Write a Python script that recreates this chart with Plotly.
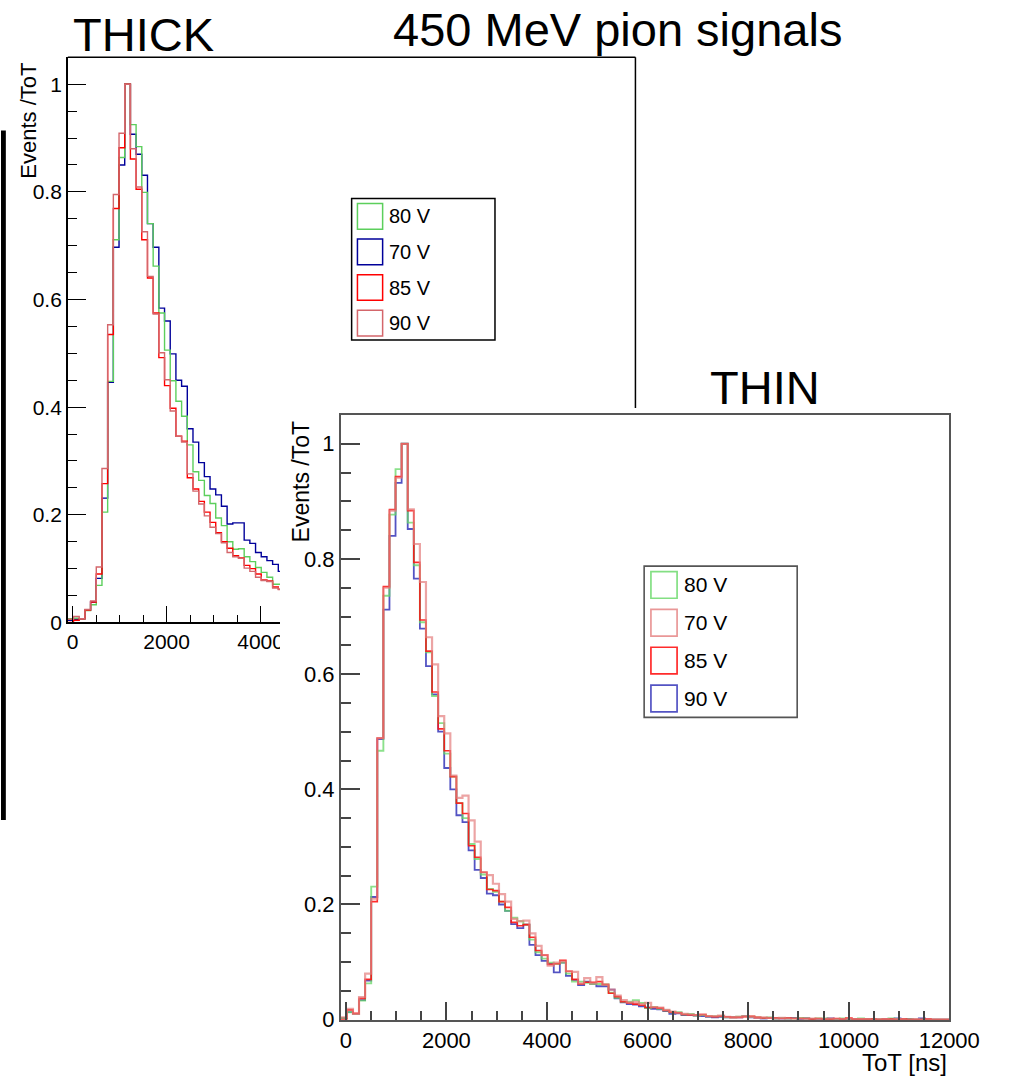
import numpy as np
import plotly.graph_objects as go

W, H = 1019, 1088
FONT = "Liberation Sans, Arial, Helvetica, sans-serif"

# ---- histogram binning: 100 bins of 121 ns starting at -100 ns ----
BIN0, BINW = -100.0, 121.0

# ---- THICK sensor, normalised ToT spectra (first 38 bins) ----
thick_80V = [0.007, 0.008, 0.007, 0.022, 0.033, 0.069, 0.205, 0.448, 0.711, 0.864,
             1.000, 0.925, 0.884, 0.799, 0.741, 0.662, 0.575, 0.506, 0.449, 0.411,
             0.383, 0.330, 0.280, 0.264, 0.236, 0.221, 0.194, 0.180, 0.150, 0.136,
             0.137, 0.122, 0.113, 0.102, 0.093, 0.084, 0.071, 0.071]
thick_70V = [0.004, 0.006, 0.007, 0.023, 0.038, 0.082, 0.231, 0.446, 0.697, 0.850,
             1.000, 0.907, 0.870, 0.831, 0.741, 0.697, 0.584, 0.560, 0.499, 0.450,
             0.439, 0.360, 0.335, 0.297, 0.271, 0.248, 0.237, 0.216, 0.183, 0.185,
             0.185, 0.153, 0.147, 0.130, 0.122, 0.115, 0.108, 0.095]
thick_85V = [0.000, 0.004, 0.007, 0.023, 0.038, 0.090, 0.258, 0.535, 0.769, 0.882,
             1.000, 0.861, 0.805, 0.711, 0.640, 0.575, 0.492, 0.440, 0.398, 0.346,
             0.337, 0.269, 0.248, 0.225, 0.205, 0.186, 0.167, 0.150, 0.138, 0.124,
             0.120, 0.106, 0.100, 0.090, 0.079, 0.077, 0.066, 0.062]
thick_90V = [0.006, 0.011, 0.007, 0.024, 0.040, 0.103, 0.286, 0.553, 0.795, 0.909,
             1.000, 0.880, 0.809, 0.726, 0.643, 0.573, 0.501, 0.451, 0.393, 0.346,
             0.335, 0.276, 0.244, 0.220, 0.198, 0.177, 0.165, 0.148, 0.130, 0.122,
             0.119, 0.101, 0.095, 0.084, 0.078, 0.076, 0.064, 0.061]

# ---- THIN sensor, normalised ToT spectra (100 bins) ----
thin_80V = [0.003, 0.013, 0.010, 0.033, 0.063, 0.231, 0.467, 0.736, 0.877, 0.956,
            1.000, 0.863, 0.789, 0.690, 0.638, 0.562, 0.515, 0.462, 0.422, 0.376,
            0.350, 0.305, 0.279, 0.252, 0.227, 0.222, 0.205, 0.189, 0.177, 0.171,
            0.165, 0.139, 0.117, 0.106, 0.099, 0.097, 0.099, 0.080, 0.066, 0.066,
            0.064, 0.062, 0.062, 0.061, 0.047, 0.038, 0.031, 0.031, 0.034, 0.029,
            0.020, 0.022, 0.019, 0.016, 0.013, 0.013, 0.009, 0.010, 0.007, 0.008,
            0.006, 0.006, 0.006, 0.004, 0.004, 0.005, 0.006, 0.005, 0.004, 0.003,
            0.004, 0.002, 0.003, 0.002, 0.002, 0.003, 0.002, 0.001, 0.002, 0.002,
            0.001, 0.001, 0.002, 0.001, 0.001, 0.002, 0.001, 0.001, 0.001, 0.000,
            0.002, 0.001, 0.000, 0.001, 0.000, 0.000, 0.000, 0.000, 0.000, 0.000]
thin_70V = [0.004, 0.019, 0.010, 0.039, 0.080, 0.210, 0.489, 0.750, 0.884, 0.941,
            1.000, 0.886, 0.826, 0.760, 0.664, 0.617, 0.527, 0.497, 0.424, 0.385,
            0.389, 0.346, 0.309, 0.256, 0.251, 0.236, 0.218, 0.205, 0.175, 0.171,
            0.172, 0.150, 0.128, 0.112, 0.094, 0.099, 0.101, 0.084, 0.083, 0.063,
            0.072, 0.063, 0.074, 0.061, 0.052, 0.042, 0.034, 0.030, 0.031, 0.027,
            0.029, 0.022, 0.021, 0.017, 0.014, 0.012, 0.010, 0.009, 0.008, 0.009,
            0.006, 0.006, 0.007, 0.005, 0.004, 0.005, 0.006, 0.005, 0.003, 0.004,
            0.003, 0.002, 0.003, 0.002, 0.002, 0.002, 0.001, 0.002, 0.001, 0.001,
            0.002, 0.001, 0.001, 0.002, 0.001, 0.001, 0.001, 0.000, 0.001, 0.001,
            0.000, 0.001, 0.000, 0.000, 0.001, 0.000, 0.000, 0.000, 0.000, 0.000]
thin_85V = [0.000, 0.017, 0.011, 0.037, 0.070, 0.205, 0.489, 0.752, 0.886, 0.943,
            1.000, 0.884, 0.794, 0.694, 0.640, 0.569, 0.505, 0.467, 0.422, 0.376,
            0.358, 0.302, 0.282, 0.256, 0.226, 0.224, 0.205, 0.195, 0.169, 0.163,
            0.165, 0.143, 0.120, 0.112, 0.096, 0.097, 0.103, 0.084, 0.070, 0.062,
            0.065, 0.065, 0.066, 0.061, 0.046, 0.040, 0.031, 0.029, 0.027, 0.025,
            0.021, 0.021, 0.020, 0.016, 0.013, 0.012, 0.009, 0.008, 0.008, 0.009,
            0.006, 0.005, 0.006, 0.005, 0.004, 0.004, 0.005, 0.006, 0.004, 0.003,
            0.003, 0.003, 0.002, 0.003, 0.002, 0.002, 0.002, 0.001, 0.002, 0.001,
            0.001, 0.002, 0.001, 0.003, 0.001, 0.001, 0.001, 0.001, 0.000, 0.001,
            0.001, 0.000, 0.001, 0.000, 0.000, 0.000, 0.001, 0.000, 0.000, 0.000]
thin_90V = [0.003, 0.013, 0.010, 0.034, 0.068, 0.213, 0.487, 0.712, 0.840, 0.932,
            1.000, 0.852, 0.766, 0.679, 0.614, 0.565, 0.500, 0.437, 0.400, 0.355,
            0.343, 0.294, 0.260, 0.246, 0.219, 0.216, 0.200, 0.189, 0.166, 0.159,
            0.165, 0.130, 0.112, 0.102, 0.097, 0.082, 0.099, 0.076, 0.069, 0.060,
            0.066, 0.062, 0.058, 0.058, 0.052, 0.037, 0.030, 0.027, 0.026, 0.023,
            0.021, 0.019, 0.018, 0.015, 0.010, 0.011, 0.008, 0.008, 0.007, 0.006,
            0.005, 0.004, 0.005, 0.004, 0.004, 0.004, 0.006, 0.004, 0.003, 0.002,
            0.003, 0.002, 0.002, 0.002, 0.003, 0.001, 0.002, 0.001, 0.001, 0.001,
            0.002, 0.001, 0.001, 0.001, 0.001, 0.000, 0.001, 0.001, 0.000, 0.001,
            0.001, 0.002, 0.000, 0.001, 0.000, 0.002, 0.000, 0.000, 0.000, 0.000]

legend_labels = ["80 V", "70 V", "85 V", "90 V"]


def px(x):
    return x / W


def py(y):
    return 1 - y / H


def step_xy(vals):
    n = len(vals)
    edges = BIN0 + BINW * np.arange(n + 1)
    return list(edges), list(vals) + [vals[-1]]


fig = go.Figure()

# THICK histograms (drawn order: 70 V, 80 V, 85 V, 90 V on top)
thick_series = [
    ("70 V", thick_70V, "#00009a", 1.4),
    ("80 V", thick_80V, "#5ccf5c", 1.4),
    ("85 V", thick_85V, "#ff0000", 1.4),
    ("90 V", thick_90V, "#d4666b", 1.4),
]
for name, vals, col, lw in thick_series:
    xs, ys = step_xy(vals)
    fig.add_trace(go.Scatter(x=xs, y=ys, mode="lines", line=dict(color=col, width=lw, shape="hv"),
                             name=name, showlegend=False, xaxis="x", yaxis="y", hoverinfo="skip"))

# THIN histograms
thin_series = [
    ("90 V", thin_90V, "rgba(40,40,180,0.8)", 1.8),
    ("80 V", thin_80V, "rgba(100,215,100,0.75)", 1.9),
    ("85 V", thin_85V, "rgba(255,20,20,0.9)", 1.6),
    ("70 V", thin_70V, "rgba(228,125,125,0.7)", 2.2),
]
for name, vals, col, lw in thin_series:
    xs, ys = step_xy(vals)
    fig.add_trace(go.Scatter(x=xs, y=ys, mode="lines", line=dict(color=col, width=lw, shape="hv"),
                             name=name, showlegend=False, xaxis="x2", yaxis="y2", hoverinfo="skip"))

thick_axis_common = dict(showgrid=False, zeroline=False, ticks="inside", tickcolor="black",
                         tickwidth=1.3, showline=True, linecolor="black", linewidth=1.5,
                         tickfont=dict(family=FONT, size=21, color="black"))
thin_axis_common = dict(showgrid=False, zeroline=False, ticks="inside", tickcolor="#444",
                        tickwidth=1.5, showline=True, linecolor="#555", linewidth=1.6, mirror=True,
                        tickfont=dict(family=FONT, size=22, color="black"))

fig.update_layout(
    width=W, height=H, margin=dict(l=0, r=0, t=0, b=0), autosize=False,
    paper_bgcolor="white", plot_bgcolor="rgba(0,0,0,0)",
    showlegend=False,
    xaxis=dict(domain=[px(69), px(288)], range=[BIN0, 4412], anchor="y",
               tick0=0, dtick=2000, ticklen=17, tickformat="d",
               minor=dict(tick0=0, dtick=500, ticklen=8, ticks="inside", tickcolor="black", tickwidth=1.3),
               **thick_axis_common),
    yaxis=dict(domain=[py(630), py(58)], range=[0, 1.05], anchor="x",
               tick0=0, dtick=0.2, ticklen=18,
               minor=dict(tick0=0, dtick=0.05, ticklen=9, ticks="inside", tickcolor="black", tickwidth=1.3),
               **thick_axis_common),
    xaxis2=dict(domain=[px(350.8), px(979)], range=[BIN0, 12000], anchor="y2",
                tick0=0, dtick=2000, ticklen=18, tickformat="d",
                minor=dict(tick0=0, dtick=500, ticklen=9, ticks="inside", tickcolor="#444", tickwidth=1.5),
                **thin_axis_common),
    yaxis2=dict(domain=[py(1032), py(420)], range=[0, 1.05], anchor="x2",
                tick0=0, dtick=0.2, ticklen=19,
                minor=dict(tick0=0, dtick=0.05, ticklen=10, ticks="inside", tickcolor="#444", tickwidth=1.5),
                **thin_axis_common),
)

shapes = []
# remaining frame of the THICK pad (top and the visible part of the right edge)
shapes.append(dict(type="line", xref="paper", yref="paper", x0=px(69), x1=px(655), y0=py(58), y1=py(58),
                   line=dict(color="black", width=1.5)))
shapes.append(dict(type="line", xref="paper", yref="paper", x0=px(655), x1=px(655), y0=py(58), y1=py(413),
                   line=dict(color="black", width=1.5)))
# THIN pad overlaps the end of the THICK x-axis labels
shapes.append(dict(type="rect", xref="paper", yref="paper", x0=px(288), x1=px(312), y0=py(662), y1=py(634),
                   fillcolor="white", line=dict(width=0), layer="above"))
# black bar at the left border
shapes.append(dict(type="rect", xref="paper", yref="paper", x0=0, x1=px(5), y0=py(830), y1=py(132),
                   fillcolor="black", line=dict(width=0)))

annotations = []

# THICK legend
shapes.append(dict(type="rect", xref="paper", yref="paper", x0=px(362), x1=px(510), y0=py(344), y1=py(201),
                   line=dict(color="black", width=1.5), fillcolor="white"))
thick_leg_cols = {"80 V": "#5ccf5c", "70 V": "#00009a", "85 V": "#ff0000", "90 V": "#d4666b"}
for i, lab in enumerate(legend_labels):
    cy = 219 + 36 * i
    shapes.append(dict(type="rect", xref="paper", yref="paper", x0=px(368), x1=px(394),
                       y0=py(cy + 13), y1=py(cy - 13), line=dict(color=thick_leg_cols[lab], width=1.5)))
    annotations.append(dict(x=px(399), y=py(cy), text=lab, xanchor="left",
                            font=dict(family=FONT, size=20, color="black")))

# THIN legend
shapes.append(dict(type="rect", xref="paper", yref="paper", x0=px(664), x1=px(822), y0=py(726), y1=py(573),
                   line=dict(color="#555", width=1.6), fillcolor="white"))
thin_leg_cols = {"80 V": "rgba(100,215,100,0.8)", "70 V": "rgba(228,125,125,0.8)",
                 "85 V": "rgba(255,20,20,0.9)", "90 V": "rgba(40,40,180,0.8)"}
for i, lab in enumerate(legend_labels):
    cy = 592 + 38.3 * i
    shapes.append(dict(type="rect", xref="paper", yref="paper", x0=px(671), x1=px(698),
                       y0=py(cy + 13.5), y1=py(cy - 13.5), line=dict(color=thin_leg_cols[lab], width=1.7)))
    annotations.append(dict(x=px(703), y=py(cy), text=lab, xanchor="left",
                            font=dict(family=FONT, size=21, color="black")))

# titles and axis labels
annotations += [
    dict(x=px(637), y=py(30), text="450 MeV pion signals", font=dict(family=FONT, size=47, color="black")),
    dict(x=px(147.5), y=py(35), text="THICK", font=dict(family=FONT, size=47, color="black")),
    dict(x=px(789), y=py(392), text="THIN", font=dict(family=FONT, size=47, color="black")),
    dict(x=px(28), y=py(122), text="Events /ToT", textangle=-90, font=dict(family=FONT, size=22, color="black")),
    dict(x=px(310), y=py(488), text="Events /ToT", textangle=-90, font=dict(family=FONT, size=23, color="black")),
    dict(x=px(979), y=py(1075), text="ToT [ns]", xanchor="right", font=dict(family=FONT, size=24, color="black")),
]
for a in annotations:
    a.setdefault("xref", "paper")
    a.setdefault("yref", "paper")
    a.setdefault("showarrow", False)
    a.setdefault("xanchor", "center")
    a.setdefault("yanchor", "middle")

fig.update_layout(shapes=shapes, annotations=annotations)
fig.write_html(
    "out.html",
    post_script="document.body.style.margin='0';document.body.style.padding='0';"
                "document.documentElement.style.overflow='hidden';document.body.style.overflow='hidden';",
)
